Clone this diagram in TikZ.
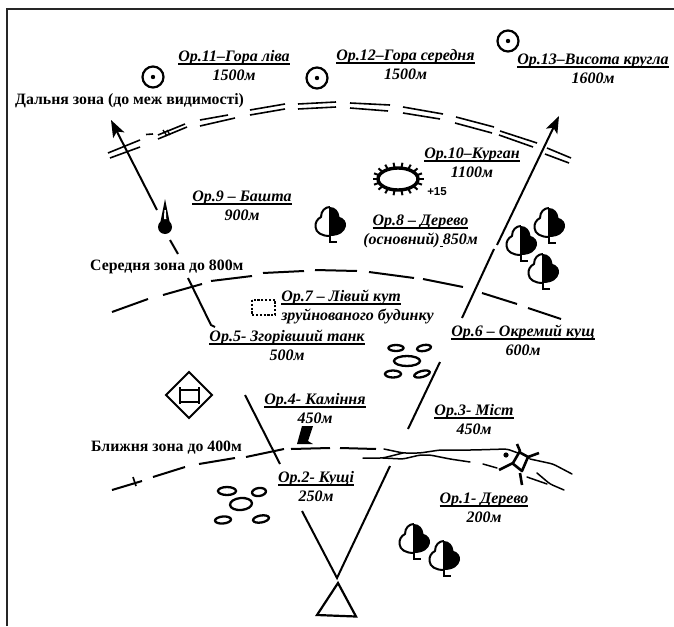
\documentclass[tikz,border=0pt]{standalone}
\usepackage{fontspec}
\setmainfont{Liberation Serif}
\newfontfamily\plusfont{Liberation Sans}
\usetikzlibrary{arrows.meta}
\newcommand\ul[1]{\leavevmode\vtop{\hbox{\raisebox{0pt}[\height][0pt]{#1}}\kern1.5pt\hrule height 1.7pt}}
\tikzset{
  x=1pt,y=-1pt,
  orlabel/.style={font=\fontsize{16}{18.5}\selectfont\bfseries\itshape,align=center,inner sep=0pt,anchor=base},
  zonelabel/.style={font=\fontsize{15.8}{18}\selectfont\bfseries,inner sep=0pt,anchor=base west},
  ln/.style={line width=2pt},
  zn/.style={line width=2pt},
  dbl/.style={line width=1.6pt},
  stone/.style={line width=2.3pt},
  landmark/.style={circle,draw,line width=2.2pt,minimum size=21pt,inner sep=0pt},
  riv/.style={line width=1.5pt,line cap=round,rounded corners=3pt},
  brg/.style={line width=2.6pt},
  tree/.pic={
    \fill (0,0) .. controls (5,0) and (9,4) .. (9.5,10) .. controls (14,11) and (16.5,15) .. (16,19) .. controls (15,25) and (9,29) .. (0,29) -- cycle;
    \draw[line width=2pt] (0,0) .. controls (-5,0) and (-9,4) .. (-9,10) .. controls (-13,12) and (-15,16) .. (-14.5,20) .. controls (-14,26) and (-8,29) .. (0,29);
    \draw[line width=2pt] (0,0) -- (0,35) -- (7,35);
  }
}
\begin{document}
\begin{tikzpicture}
\useasboundingbox (0,0) rectangle (674,626);
\draw[line width=1.6pt,black!85] (7,626) -- (7,9) -- (674,9);

% far zone
\draw[dbl] (108,153)--(140,140) (110,158)--(140,147)
 (158,135)--(185,124) (158,139)--(187,127) (146,134.5)--(153,134)
 (200,120)--(228,115) (200,126)--(235,118)
 (250,110)--(285,104) (250,115)--(285,109)
 (298,104)--(336,102) (298,109)--(336,107)
 (350,103)--(390,105) (350,108)--(388,111)
 (403,107)--(443,114) (403,113)--(440,119)
 (456,117)--(494,127) (455,123)--(492,133)
 (500,131)--(537,143) (499,135)--(533,147)
 (547,148)--(571,158) (545,154)--(569,163);
\draw[line width=1.3pt] (163,130)--(167,136) (167,130)--(170,135);
% middle zone
\draw[zn] (112,312)--(148,299) (163,295)--(202,284) (211,281)--(252,276) (263,273)--(304,271)
 (315,270)--(357,271) (369,272)--(414,278) (423,279)--(463,287) (482,293)--(517,304) (528,308)--(561,319);
% near zone
\draw[zn] (112,490)--(142,481) (153,477)--(185,467) (199,464)--(235,458) (246,457)--(284,449)
 (291,449)--(330,448) (340,448)--(376,449);
\draw[line width=1.6pt] (133,477)--(136,486);

% sight lines
\draw[ln,-{Stealth[length=17pt,width=12.5pt,inset=4pt]}] (157,210)--(111,120);
\draw[ln] (170,240)--(178,254) (188,278)--(211,325)--(215,327);
\draw[ln,-{Stealth[length=17pt,width=12.5pt,inset=4pt]}] (497,245)--(559,116);
\draw[ln] (494,249)--(462,318);
\draw[ln] (440,362)--(408,429);
\draw[ln] (245,395)--(280,464);
\draw[ln] (302,511)--(337,578)--(390,466);
\draw[line width=2.2pt] (338,583)--(317,615)--(356,616.5)--cycle;

% tower
\fill (165,227) circle (7pt);
\fill (165,199)--(170,224)--(160,224)--cycle;
\fill[white] (164.4,210)--(165.8,210)--(166.3,219)--(164,219)--cycle;

% circles
\node[landmark] (p11) at (153,77) {};
\node[landmark] (p12) at (317,78) {};
\node[landmark] (p13) at (508,41) {};
\fill (p11) circle (2.2pt) (p12) circle (2.2pt) (p13) circle (2.2pt);

% kurgan
\draw[line width=3.4pt] (398,179) ellipse (20 and 11);
\foreach \t in {0,20,...,340}{\draw[line width=2pt] ({398+20*cos(\t)},{179+11*sin(\t)})--({398+25.5*cos(\t)},{179+16.5*sin(\t)});}
\node[font=\plusfont\bfseries\fontsize{11.5}{12}\selectfont,inner sep=0pt] (plus) at (437,192) {+15};

% trees
\pic at (330,207) {tree};
\pic at (521,226) {tree};
\pic at (549,208) {tree};
\pic at (543,254) {tree};
\pic at (414,524) {tree};
\pic at (444,541) {tree};

% building
\draw[line width=2.6pt,dash pattern=on 2.2pt off 1.6pt] (252,300) rectangle (275,315);

% stones upper
\draw[stone] (396,348) ellipse (7.5 and 3) (407,361) ellipse (13 and 5) (393,374) ellipse (8 and 3.5);
\draw[stone,rotate around={10:(424,348)}] (424,348) ellipse (7 and 3);
\draw[stone,rotate around={15:(422,374)}] (422,374) ellipse (8 and 3);
% stones lower
\draw[stone] (227,491) ellipse (9 and 4);
\draw[stone,rotate around={8:(259,492)}] (259,492) ellipse (7 and 4);
\draw[stone,rotate around={5:(241,504)}] (241,504) ellipse (11 and 6);
\draw[stone,rotate around={5:(223,520)}] (223,520) ellipse (8 and 3.5);
\draw[stone,rotate around={10:(261,519)}] (261,519) ellipse (8 and 3.5);

% diamond symbol
\draw[line width=2pt] (189,372)--(212,395)--(189,418)--(166,395)--cycle;
\draw[line width=2pt] (180,387)--(180,404) (199,387)--(199,404) (180,390)--(199,390) (180,402)--(199,402);

% rock
\fill (302,426)--(313,426)--(308,441)--(313,444)--(297,444)--cycle;

% river
\draw[riv] (384,449)--(403,453)--(420,453)--(440,450)--(473,450)--(507,449)--(518,453);
\draw[riv] (363,458)--(383,458)--(403,453);
\draw[riv] (383,458)--(403,459)--(420,455)--(430,455)--(450,459)--(470,462);
\draw[riv] (483,464)--(497,468);
\draw[riv] (530,459)--(553,464)--(572,474);
\draw[riv] (527,477)--(547,484);
\draw[riv] (537,473)--(550,484)--(564,490);
\fill (506,455) circle (2.6pt);
\draw[brg,line join=round] (517,444)--(520,451)--(513,463)--(499,470);
\draw[brg,line join=round] (539,453)--(528,457)--(522,471)--(512,463);
\draw[brg,line join=round] (520,473)--(522,485);
\draw[brg] (519,452)--(530,458);

% labels
\node[orlabel] (o11) at (234,80) {\ul{Ор.11–Гора ліва}\\1500м};
\node[orlabel] (o12) at (405.5,79) {\ul{Ор.12–Гора середня}\\1500м};
\node[orlabel] (o13) at (593,83) {\ul{Ор.13–Висота кругла}\\1600м};
\node[orlabel] (o9) at (242,220) {\ul{Ор.9 – Башта}\\900м};
\node[orlabel] (o10) at (472,177) {\ul{Ор.10–Курган}\\1100м};
\node[orlabel] (o8) at (420.5,244) {\ul{Ор.8 – Дерево}\\(основний)\ul{\kern3pt}850м};
\node[orlabel,align=left] (o7) at (357.5,320) {\ul{Ор.7 – Лівий кут}\\зруйнованого будинку};
\node[orlabel] (o5) at (287,360) {\ul{Ор.5- Згорівший танк}\\500м};
\node[orlabel] (o6) at (523,355) {\ul{Ор.6 – Окремий кущ}\\600м};
\node[orlabel] (o4) at (315,423) {\ul{Ор.4- Каміння}\\450м};
\node[orlabel] (o3) at (474,434) {\ul{Ор.3- Міст}\\450м};
\node[orlabel] (o2) at (316,501) {\ul{Ор.2- Кущі}\\250м};
\node[orlabel] (o1) at (484,522) {\ul{Ор.1- Дерево}\\200м};

\node[zonelabel] (zfar) at (15,104) {Дальня зона (до меж видимості)};
\node[zonelabel] (zmid) at (90,270) {Середня зона до 800м};
\node[zonelabel] (znear) at (91,451) {Ближня зона до 400м};
\end{tikzpicture}
\end{document}
